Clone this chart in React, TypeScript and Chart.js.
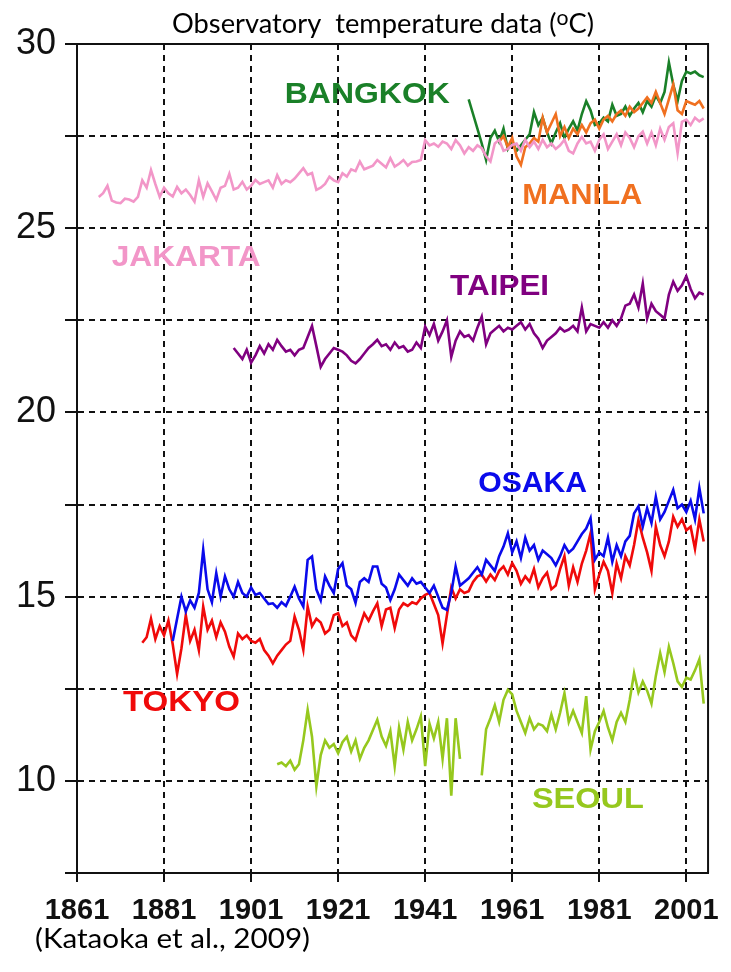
import React, { useEffect, useRef } from "react";
import { Chart, registerables } from "chart.js";
Chart.register(...registerables);

// ---------- axes ----------
const X_MIN = 1861;
const X_MAX = 2006;
const Y_MIN = 7.5;
const Y_MAX = 30;
const X_TICKS = [1861, 1881, 1901, 1921, 1941, 1961, 1981, 2001];
const Y_TICKS = [7.5, 10, 12.5, 15, 17.5, 20, 22.5, 25, 27.5, 30];

// ---------- series (annual mean °C), each starts at its first year ----------
const JAKARTA_START = 1866;
const JAKARTA = [
  25.85, 25.95, 26.15, 25.75, 25.7, 25.68, 25.8, 25.78, 25.72, 25.85,
  26.3, 26.1, 26.58, 26.2, 25.85, 26.1, 25.95, 25.86, 26.12, 25.95,
  26.05, 25.9, 25.72, 26.3, 25.85, 26.22, 26.0, 25.77, 26.1, 26.15,
  26.48, 26.05, 26.1, 26.26, 26.05, 26.15, 26.31, 26.2, 26.25, 26.3,
  26.1, 26.44, 26.2, 26.3, 26.25, 26.35, 26.49, 26.63, 26.45, 26.5,
  26.04, 26.1, 26.2, 26.4, 26.3, 26.25, 26.49, 26.4, 26.6, 26.55,
  26.81, 26.6, 26.65, 26.7, 26.85, 26.75, 26.65, 26.9, 26.67, 26.75,
  26.85, 26.7, 26.8, 26.81, 26.85, 27.39, 27.25, 27.3, 27.21, 27.35,
  27.3, 27.15, 27.39, 27.25, 27.03, 27.2, 27.1, 27.25, 27.17, 26.95,
  26.81, 27.3, 27.4, 27.1, 27.15, 27.26, 27.3, 27.1, 27.4, 27.2,
  27.35, 27.15, 27.4, 27.2, 27.3, 27.15, 27.25, 27.4, 27.1, 27.03,
  27.3, 27.48, 27.3, 27.35, 27.1, 27.4, 27.55, 27.15, 27.35, 27.55,
  27.25, 27.6, 27.45, 27.2, 27.5, 27.62, 27.3, 27.6, 27.25, 27.7,
  27.4, 27.75, 27.85, 27.04, 27.89, 27.95, 27.8, 28.0, 27.9, 27.98,
];

const BANGKOK_START = 1951;
const BANGKOK = [
  28.5, 28.1, 27.7, 27.3, 26.85, 27.45, 27.65, 27.35, 27.7, 27.15,
  27.35, 27.1, 27.25, 27.4, 27.55, 28.15, 27.8, 28.0, 27.6, 27.3,
  27.6, 27.85, 27.45, 27.7, 27.9, 27.65, 28.1, 28.45, 28.2, 27.8,
  27.85, 28.0, 27.9, 28.35, 28.05, 28.1, 28.3, 28.05, 28.25, 28.4,
  28.15, 28.45, 28.3, 28.6, 28.4, 28.7, 29.5, 28.9, 28.45, 29.0,
  29.25, 29.2, 29.25, 29.15, 29.1,
];

const MANILA_START = 1958;
const MANILA = [
  27.35, 27.5, 27.2, 27.45, 26.95, 26.72, 27.2, 27.3, 27.45, 27.35,
  28.0, 27.6, 27.85, 28.1, 27.5, 27.75, 27.45, 27.7, 27.55, 27.8,
  27.6, 27.85, 27.95, 27.7, 27.95, 28.05, 27.9, 28.1, 28.2, 28.05,
  28.3, 28.15, 28.25, 28.4, 28.55, 28.4, 28.7, 28.4, 28.1, 28.5,
  28.9, 28.2, 28.1, 28.45, 28.4, 28.35, 28.45, 28.25,
];

const TAIPEI_START = 1897;
const TAIPEI = [
  21.75, 21.6, 21.45, 21.7, 21.35, 21.55, 21.8, 21.6, 21.85, 21.7,
  21.97, 21.8, 21.65, 21.7, 21.55, 21.7, 21.75, 22.05, 22.35, 21.8,
  21.24, 21.45, 21.6, 21.75, 21.7, 21.65, 21.55, 21.4, 21.33, 21.45,
  21.6, 21.75, 21.85, 21.97, 21.8, 21.85, 21.7, 21.9, 21.75, 21.8,
  21.65, 21.7, 21.9, 21.75, 22.33, 22.1, 22.4, 21.95, 22.2, 22.5,
  21.51, 21.95, 22.2, 22.05, 22.1, 21.95, 22.3, 22.6, 21.85, 22.15,
  22.25, 22.35, 22.2, 22.3, 22.25, 22.35, 22.45, 22.25, 22.4, 22.15,
  22.0, 21.75, 21.95, 22.05, 22.15, 22.3, 22.2, 22.25, 22.35, 22.2,
  22.85, 22.2, 22.4, 22.35, 22.3, 22.45, 22.3, 22.5, 22.35, 22.55,
  22.9, 22.95, 23.2, 22.85, 23.5, 22.55, 22.95, 22.75, 22.65, 22.55,
  23.2, 23.55, 23.3, 23.45, 23.7, 23.35, 23.1, 23.25, 23.2,
];

const OSAKA_START = 1883;
const OSAKA = [
  13.8, 14.4, 15.0, 14.6, 14.9, 14.7, 15.1, 16.27, 15.2, 14.85,
  15.64, 15.0, 15.55, 15.2, 15.0, 15.4, 15.1, 15.0, 15.25, 15.05,
  15.1, 14.95, 14.8, 14.82, 14.7, 14.85, 14.75, 15.0, 15.27, 14.95,
  14.73, 16.0, 16.09, 15.2, 14.9, 15.55, 15.3, 15.1, 15.75, 15.91,
  15.3, 15.2, 14.83, 15.4, 15.5, 15.4, 15.82, 15.82, 15.35, 15.25,
  14.91, 15.2, 15.6, 15.45, 15.3, 15.5, 15.35, 15.4, 15.25, 15.1,
  15.3, 15.0, 14.7, 14.64, 15.1, 15.82, 15.3, 15.4, 15.5, 15.65,
  15.8, 15.6, 16.0, 15.85, 15.7, 16.1, 16.36, 16.72, 16.2, 16.5,
  16.05, 16.6, 16.25, 16.4, 16.0, 16.25, 16.15, 16.05, 15.85, 16.1,
  16.4, 16.2, 16.3, 16.5, 16.7, 16.85, 17.13, 16.0, 16.2, 16.1,
  16.6, 15.95, 16.4, 16.1, 16.5, 16.65, 17.26, 17.45, 16.9, 17.4,
  17.0, 17.71, 17.1, 17.3, 17.6, 17.9, 17.4, 17.5, 17.3, 17.6,
  17.1, 17.95, 17.26,
];

const TOKYO_START = 1876;
const TOKYO = [
  13.75, 13.9, 14.4, 13.85, 14.2, 13.95, 14.35, 13.7, 12.9, 13.6,
  14.5, 13.8, 14.1, 13.55, 14.73, 14.1, 14.35, 13.9, 14.3, 14.05,
  13.64, 13.37, 14.0, 13.85, 13.95, 13.8, 13.75, 13.85, 13.55, 13.4,
  13.19, 13.4, 13.55, 13.7, 13.8, 14.46, 14.1, 13.56, 14.73, 14.2,
  14.4, 14.3, 14.0, 14.1, 14.5, 14.55, 14.2, 14.3, 13.95, 13.82,
  14.2, 14.55, 14.35, 14.6, 14.82, 14.2, 14.65, 14.7, 14.15, 14.65,
  14.82, 14.75, 14.85, 14.8, 14.95, 15.05, 15.1, 14.8, 14.5, 13.73,
  14.5, 15.25, 14.95, 15.2, 15.1, 15.15, 15.4, 15.55, 15.6, 15.41,
  15.6, 15.45, 15.7, 15.82, 15.6, 15.91, 15.7, 15.35, 15.55, 15.4,
  15.75, 15.25, 15.5, 15.65, 15.2, 15.3, 15.75, 16.1, 15.3, 15.8,
  15.4, 15.9, 16.25, 16.72, 15.2, 15.6, 15.95, 15.7, 15.1, 15.9,
  15.5, 16.1, 15.85, 16.4, 17.08, 16.6, 16.2, 15.7, 16.9, 16.4,
  16.1, 16.5, 17.17, 16.9, 17.1, 16.8, 16.9, 16.3, 17.1, 16.5,
];

const SEOUL_START = 1907;
const SEOUL = [
  10.45, 10.5, 10.4, 10.55, 10.3, 10.45, 11.1, 11.93, 11.2, 9.85,
  10.7, 11.1, 10.9, 11.0, 10.75, 11.05, 11.2, 10.8, 11.1, 10.6,
  10.9, 11.1, 11.38, 11.66, 11.2, 10.95, 11.35, 10.4, 11.45, 10.85,
  11.6, 11.1, 11.4, 11.75, 10.4, 11.55, 11.15, 11.6, 10.6, 11.7,
  9.6, 11.7, 10.6, null, null, null, null, 10.15, 11.4, 11.7,
  12.05, 11.6, 12.2, 12.47, 12.35, 11.9, 11.6, 11.3, 11.7, 11.4,
  11.55, 11.5, 11.35, 11.8, 11.4, 11.85, 12.38, 11.6, 11.9, 11.6,
  11.3, 12.3, 10.85, 11.35, 11.6, 11.9, 11.45, 11.1, 11.6, 11.85,
  11.6, 12.2, 12.92, 12.4, 12.7, 12.45, 12.1, 12.85, 13.47, 12.95,
  13.64, 13.2, 12.7, 12.55, 12.8, 12.75, 13.0, 13.3, 12.1,
];

// ---------- city names, anchored at (year, °C) ----------
const CITY_NAMES = ["BANGKOK", "MANILA", "JAKARTA", "TAIPEI", "OSAKA", "TOKYO", "SEOUL"];
const NAME_YEARS = [1927.7, 1977.1, 1886.1, 1958.1, 1965.7, 1885.0, 1978.4];
const NAME_TEMPS = [28.7, 25.95, 24.27, 23.48, 18.14, 12.2, 9.57];

const TITLE = "Observatory  temperature data (";
const TITLE_SUP = "o";
const TITLE_END = "C)";
const CITATION = "(Kataoka et al., 2009)";

// ---------- styles ----------
const COLORS: Record<string, string> = {
  JAKARTA: "rgb(242,150,200)",
  BANGKOK: "rgb(26,128,40)",
  MANILA: "rgb(240,112,32)",
  TAIPEI: "rgb(128,0,128)",
  OSAKA: "rgb(10,10,235)",
  TOKYO: "rgb(240,10,10)",
  SEOUL: "rgb(150,200,30)",
};
const NAME_WIDTHS = [165, 120, 149, 99, 109, 117, 112];
const SANS = "'Liberation Sans', Arial, sans-serif";
const HUMAN = "Lato, 'Open Sans', sans-serif";

const toPoints = (start: number, vals: (number | null)[]) =>
  vals.map((v, i) => ({ x: start + i, y: v }));

function fitText(
  ctx: CanvasRenderingContext2D,
  text: string,
  cx: number,
  baseline: number,
  targetW: number,
  font: string,
  align: "center" | "left" = "center"
) {
  ctx.font = font;
  const w = ctx.measureText(text).width;
  ctx.save();
  ctx.translate(cx, baseline);
  ctx.scale(targetW / w, 1);
  ctx.textAlign = align;
  ctx.textBaseline = "alphabetic";
  ctx.fillText(text, 0, 0);
  ctx.restore();
}

const overlay = {
  id: "overlay",
  beforeDatasetsDraw(chart: any) {
    const { ctx, chartArea } = chart;
    ctx.save();
    ctx.strokeStyle = "#111";
    ctx.lineWidth = 2;
    ctx.setLineDash([]);
    ctx.beginPath();
    ctx.moveTo(chartArea.left - 12, chartArea.top);
    ctx.lineTo(chartArea.right, chartArea.top);
    ctx.lineTo(chartArea.right, chartArea.bottom);
    ctx.stroke();
    ctx.restore();
  },
  afterDatasetsDraw(chart: any) {
    const { ctx, scales } = chart;
    const xs = scales.x;
    const ys = scales.y;
    CITY_NAMES.forEach((name, i) => {
      const cx = xs.getPixelForValue(NAME_YEARS[i]);
      const cy = ys.getPixelForValue(NAME_TEMPS[i]);
      ctx.fillStyle = COLORS[name];
      fitText(ctx, name, cx, cy + 11, NAME_WIDTHS[i], `bold 30px ${SANS}`);
    });
  },
  afterDraw(chart: any) {
    const { ctx } = chart;
    ctx.save();
    ctx.fillStyle = "#000";
    // title with superscript
    const bigFont = `27px ${HUMAN}`;
    const supFont = `21px ${HUMAN}`;
    ctx.font = bigFont;
    const w1 = ctx.measureText(TITLE).width;
    const w3 = ctx.measureText(TITLE_END).width;
    ctx.font = supFont;
    const w2 = ctx.measureText(TITLE_SUP).width;
    const total = w1 + w2 + w3;
    const target = 422;
    const sx = target / total;
    const left = 383 - target / 2;
    const base = 33;
    ctx.save();
    ctx.translate(left, base);
    ctx.scale(sx, 1);
    ctx.textAlign = "left";
    ctx.textBaseline = "alphabetic";
    ctx.font = bigFont;
    ctx.fillText(TITLE, 0, 0);
    ctx.font = supFont;
    ctx.fillText(TITLE_SUP, w1, -8);
    ctx.font = bigFont;
    ctx.fillText(TITLE_END, w1 + w2, 0);
    ctx.restore();
    // citation
    fitText(ctx, CITATION, 35, 948, 275, `27px ${HUMAN}`, "left");
    ctx.restore();
  },
};

export default function App() {
  const ref = useRef<HTMLCanvasElement | null>(null);
  useEffect(() => {
    document.body.style.margin = "0";
    const canvas = ref.current;
    if (!canvas) return;
    const line = (name: string, start: number, vals: (number | null)[]) => ({
      label: name,
      data: toPoints(start, vals),
      borderColor: COLORS[name],
      backgroundColor: COLORS[name],
      borderWidth: 2.6,
      pointRadius: 0,
      tension: 0,
      spanGaps: false,
      fill: false,
    });
    const chart = new Chart(canvas, {
      type: "line",
      data: {
        datasets: [
          line("JAKARTA", JAKARTA_START, JAKARTA),
          line("MANILA", MANILA_START, MANILA),
          line("BANGKOK", BANGKOK_START, BANGKOK),
          line("TAIPEI", TAIPEI_START, TAIPEI),
          line("OSAKA", OSAKA_START, OSAKA),
          line("TOKYO", TOKYO_START, TOKYO),
          line("SEOUL", SEOUL_START, SEOUL),
        ],
      },
      options: {
        responsive: false,
        animation: false,
        events: [],
        layout: { padding: { top: 44, right: 13, left: 0, bottom: 0 } },
        plugins: {
          legend: { display: false },
          title: { display: false },
          tooltip: { enabled: false },
        },
        scales: {
          x: {
            type: "linear",
            min: X_MIN,
            max: X_MAX,
            afterBuildTicks: (s: any) => {
              s.ticks = X_TICKS.map((v) => ({ value: v }));
            },
            afterFit: (s: any) => {
              s.height = 99;
            },
            ticks: {
              autoSkip: false,
              maxRotation: 0,
              minRotation: 0,
              padding: 12,
              color: "#111",
              font: { family: SANS, size: 29, weight: "bold" },
              callback: (v: any) => String(v),
            },
            grid: {
              color: "#111",
              lineWidth: 2,
              tickLength: 9,
              tickColor: "#111",
              tickWidth: 2,
            },
            border: { display: true, color: "#111", width: 2, dash: [6, 5] },
          },
          y: {
            type: "linear",
            min: Y_MIN,
            max: Y_MAX,
            afterBuildTicks: (s: any) => {
              s.ticks = Y_TICKS.map((v) => ({ value: v }));
            },
            afterFit: (s: any) => {
              s.width = 77;
            },
            ticks: {
              autoSkip: false,
              padding: 9,
              color: "#111",
              font: { family: SANS, size: 36 },
              callback: (v: any) => (v % 5 === 0 ? String(v) : ""),
            },
            grid: {
              color: "#111",
              lineWidth: 2,
              tickLength: 12,
              tickColor: "#111",
              tickWidth: 2,
            },
            border: { display: true, color: "#111", width: 2, dash: [6, 5] },
          },
        },
      },
      plugins: [overlay],
    } as any);
    return () => chart.destroy();
  }, []);
  return (
    <canvas
      ref={ref}
      width={731}
      height={972}
      style={{ position: "absolute", left: 0, top: 0, width: 731, height: 972, background: "#fff" }}
    />
  );
}
